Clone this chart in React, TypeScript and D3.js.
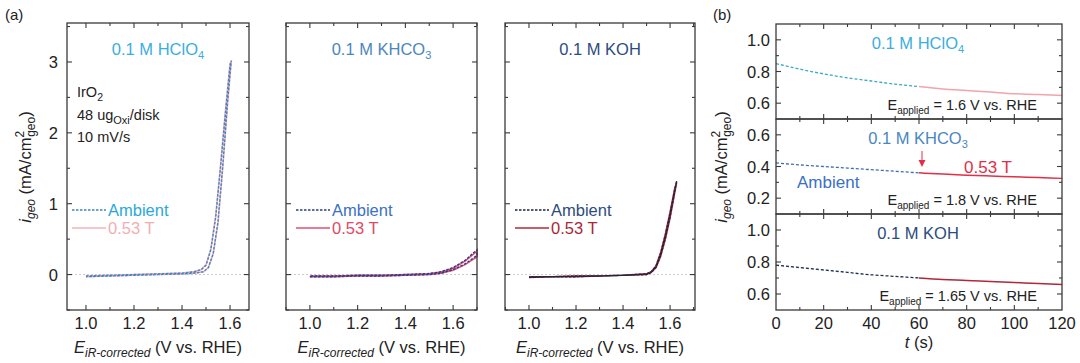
import React from "react";
import * as d3 from "d3";

const FONT = "'Liberation Sans', Arial, sans-serif";
const FRAME = "#3a3a3a";

// (a) LSV loops: forward scan then reverse scan
const hclo4E = [1.0, 1.1, 1.2, 1.3, 1.4, 1.45, 1.48, 1.5, 1.52, 1.54, 1.56, 1.58, 1.6, 1.605, 1.59, 1.57, 1.55, 1.53, 1.51, 1.49, 1.45, 1.4, 1.3, 1.2, 1.1, 1.0];
const hclo4Amb = [-0.02, -0.01, 0, 0.01, 0.02, 0.04, 0.07, 0.13, 0.35, 0.8, 1.5, 2.25, 2.95, 3.02, 2.45, 1.55, 0.75, 0.3, 0.1, 0.04, 0.02, 0.01, 0, -0.01, -0.02, -0.03];
const hclo4Mag = [-0.02, -0.01, 0, 0.01, 0.02, 0.04, 0.07, 0.14, 0.36, 0.82, 1.52, 2.28, 2.98, 3.0, 2.42, 1.52, 0.73, 0.29, 0.1, 0.04, 0.02, 0.01, 0, -0.01, -0.02, -0.03];

const khco3E = [1.0, 1.1, 1.2, 1.3, 1.4, 1.5, 1.55, 1.6, 1.65, 1.7, 1.7, 1.65, 1.6, 1.55, 1.5, 1.4, 1.3, 1.2, 1.1, 1.0];
const khco3Amb = [-0.03, -0.03, -0.02, -0.02, -0.01, 0.0, 0.02, 0.07, 0.15, 0.27, 0.35, 0.2, 0.1, 0.04, 0.015, 0.0, -0.01, -0.01, -0.02, -0.02];
const khco3Mag = [-0.03, -0.03, -0.02, -0.02, -0.01, 0.0, 0.02, 0.06, 0.14, 0.25, 0.33, 0.19, 0.09, 0.035, 0.01, 0.0, -0.01, -0.01, -0.02, -0.02];

const kohE = [1.0, 1.1, 1.2, 1.3, 1.4, 1.5, 1.52, 1.54, 1.56, 1.58, 1.6, 1.62, 1.628, 1.62, 1.6, 1.58, 1.56, 1.54, 1.52, 1.5, 1.4, 1.3, 1.2, 1.1, 1.0];
const kohAmb = [-0.04, -0.03, -0.03, -0.02, -0.01, 0.0, 0.03, 0.1, 0.27, 0.52, 0.82, 1.18, 1.32, 1.2, 0.86, 0.56, 0.3, 0.12, 0.04, 0.01, -0.01, -0.02, -0.02, -0.03, -0.03];
const kohMag = [-0.04, -0.03, -0.03, -0.02, -0.01, 0.0, 0.03, 0.1, 0.26, 0.5, 0.8, 1.16, 1.3, 1.22, 0.88, 0.57, 0.31, 0.12, 0.04, 0.01, -0.01, -0.02, -0.02, -0.03, -0.03];

const aXTicks = [1.0, 1.2, 1.4, 1.6];
const aYTicks = [0, 1, 2, 3];

// (b) chronoamperometry: ambient 0-60 s, 0.53 T 60-120 s
const tAmb = [0, 10, 20, 30, 40, 50, 60];
const tMag = [60, 70, 80, 90, 100, 110, 120];
const caHclo4Amb = [0.85, 0.815, 0.785, 0.76, 0.74, 0.72, 0.705];
const caHclo4Mag = [0.705, 0.69, 0.68, 0.67, 0.66, 0.655, 0.648];
const caKhco3Amb = [0.423, 0.41, 0.4, 0.39, 0.38, 0.37, 0.36];
const caKhco3Mag = [0.36, 0.352, 0.345, 0.34, 0.335, 0.33, 0.325];
const caKohAmb = [0.78, 0.765, 0.75, 0.735, 0.72, 0.71, 0.7];
const caKohMag = [0.7, 0.69, 0.685, 0.678, 0.672, 0.665, 0.66];
const bXTicks = [0, 20, 40, 60, 80, 100, 120];

function Ticks({ x0, x1, y0, y1, xs, ys }: any) {
  // inward ticks on all four sides
  const out: any[] = [];
  xs.forEach((d: any, i: number) => {
    const L = d.major ? 5 : 3;
    out.push(<line key={"xb" + i} x1={d.p} x2={d.p} y1={y1} y2={y1 - L} stroke={FRAME} strokeWidth={1.1} />);
    out.push(<line key={"xt" + i} x1={d.p} x2={d.p} y1={y0} y2={y0 + L} stroke={FRAME} strokeWidth={1.1} />);
  });
  ys.forEach((d: any, i: number) => {
    const L = d.major ? 5 : 3;
    out.push(<line key={"yl" + i} x1={x0} x2={x0 + L} y1={d.p} y2={d.p} stroke={FRAME} strokeWidth={1.1} />);
    out.push(<line key={"yr" + i} x1={x1} x2={x1 - L} y1={d.p} y2={d.p} stroke={FRAME} strokeWidth={1.1} />);
  });
  return <g>{out}</g>;
}

function PanelA({ x0, x1, domain, E, amb, mag, colors, title, legend, showY, children }: any) {
  const y0 = 23, y1 = 310;
  const x = d3.scaleLinear().domain(domain).range([x0, x1]);
  const y = d3.scaleLinear().domain([-0.5, 3.55]).range([y1, y0]);
  const line = d3.line<number>().x((_, i) => x(E[i])).y((d) => y(d));
  const xs = d3.range(Math.ceil(domain[0] * 10), Math.floor(domain[1] * 10 + 1e-6) + 1).map((k) => ({ p: x(k / 10), major: k % 2 === 0 }));
  const ys = d3.range(-1, 8).map((k) => ({ p: y(k / 2), major: k % 2 === 0 }));
  const lx = x0 + legend.dx;
  const cx = (x0 + x1) / 2;
  return (
    <g>
      <line x1={x0} x2={x1} y1={y(0)} y2={y(0)} stroke="#c8c8c8" strokeWidth={1} strokeDasharray="2,2" />
      <path d={line(mag) || ""} fill="none" stroke={colors.mag} strokeWidth={1.6} />
      <path d={line(amb) || ""} fill="none" stroke={colors.amb} strokeWidth={1.4} strokeDasharray="2.5,1.5" />
      <rect x={x0} y={y0} width={x1 - x0} height={y1 - y0} fill="none" stroke={FRAME} strokeWidth={1.3} />
      <Ticks x0={x0} x1={x1} y0={y0} y1={y1} xs={xs} ys={ys} />
      {aXTicks.map((t) => (
        <text key={t} x={x(t)} y={329} textAnchor="middle" fontSize={16.5} fill="#222">{t.toFixed(1)}</text>
      ))}
      {showY && aYTicks.map((t) => (
        <text key={t} x={x0 - 9} y={y(t) + 6} textAnchor="end" fontSize={16.5} fill="#222">{t}</text>
      ))}
      <text x={cx} y={55} textAnchor="middle" fontSize={16.5} fill={colors.title}>
        {title[0]}<tspan fontSize={11} dy={4}>{title[1]}</tspan>
      </text>
      <line x1={lx} x2={lx + 34} y1={210} y2={210} stroke={colors.amb} strokeWidth={1.4} strokeDasharray="2.5,1.5" />
      <text x={lx + 36} y={216} fontSize={16.5} fill={colors.ambText}>Ambient</text>
      <line x1={lx} x2={lx + 34} y1={228} y2={228} stroke={colors.mag} strokeWidth={1.4} />
      <text x={lx + 36} y={234} fontSize={16.5} fill={colors.magText}>0.53 T</text>
      <text x={cx} y={353} textAnchor="middle" fontSize={16.5} fill="#222">
        <tspan fontStyle="italic">E</tspan>
        <tspan fontStyle="italic" fontSize={12} dy={4}>iR-corrected</tspan>
        <tspan dy={-4}> (V vs. RHE)</tspan>
      </text>
      {children}
    </g>
  );
}

function PanelB({ y0, y1, domain, yTicks, amb, mag, colors, title, eLabel, children }: any) {
  const x0 = 776, x1 = 1062;
  const x = d3.scaleLinear().domain([0, 120]).range([x0, x1]);
  const y = d3.scaleLinear().domain(domain).range([y1, y0]);
  const lineA = d3.line<number>().x((_, i) => x(tAmb[i])).y((d) => y(d)).curve(d3.curveMonotoneX);
  const lineM = d3.line<number>().x((_, i) => x(tMag[i])).y((d) => y(d)).curve(d3.curveMonotoneX);
  const xs = d3.range(1, 12).map((k) => ({ p: x(k * 10), major: k % 2 === 0 }));
  const ys = d3.range(Math.round(domain[0] * 10) + 1, Math.round(domain[1] * 10)).map((k) => ({ p: y(k / 10), major: k % 2 === 0 }));
  return (
    <g>
      <path d={lineA(amb) || ""} fill="none" stroke={colors.amb} strokeWidth={1.3} strokeDasharray="3,2" />
      <path d={lineM(mag) || ""} fill="none" stroke={colors.mag} strokeWidth={1.5} />
      <rect x={x0} y={y0} width={x1 - x0} height={y1 - y0} fill="none" stroke={FRAME} strokeWidth={1.3} />
      <Ticks x0={x0} x1={x1} y0={y0} y1={y1} xs={xs} ys={ys} />
      {yTicks.map((t: number) => (
        <text key={t} x={770} y={y(t) + 6} textAnchor="end" fontSize={16.5} fill="#222">{t.toFixed(1)}</text>
      ))}
      <text x={918} y={y0 + 25} textAnchor="middle" fontSize={16.5} fill={colors.title}>
        {title[0]}<tspan fontSize={11} dy={4}>{title[1]}</tspan>
      </text>
      <text x={1037} y={y1 - 9} textAnchor="end" fontSize={14.5} fill="#222">
        E<tspan fontSize={10} dy={4}>applied</tspan><tspan dy={-4}>{" = " + eLabel + " V vs. RHE"}</tspan>
      </text>
      {children}
    </g>
  );
}

function YLabel({ x }: any) {
  return (
    <text transform={`translate(${x},167) rotate(-90)`} textAnchor="middle" fontSize={16.5} fill="#222">
      <tspan fontStyle="italic">i</tspan>
      <tspan fontStyle="italic" fontSize={12} dy={4}>geo</tspan>
      <tspan dy={-4}> (mA/cm</tspan>
      <tspan fontSize={12} dy={-7}>2</tspan>
      <tspan fontSize={12} dx={-6} dy={11}>geo</tspan>
      <tspan dy={-4}>)</tspan>
    </text>
  );
}

export default function App() {
  return (
    <svg width={1080} height={363} style={{ position: "absolute", left: 0, top: 0, fontFamily: FONT }} fontFamily={FONT}>
      <rect width={1080} height={363} fill="#fff" />
      <text x={5} y={20} fontSize={15} fill="#222">(a)</text>
      <text x={713} y={20} fontSize={15} fill="#222">(b)</text>

      <YLabel x={31} />

      <PanelA x0={67} x1={249} domain={[0.921, 1.679]} E={hclo4E} amb={hclo4Amb} mag={hclo4Mag}
        colors={{ amb: "#3d86c8", mag: "#f4b2b8", title: "#3aaee0", ambText: "#2aa8de", magText: "#f2aeb4" }}
        title={["0.1 M HClO", "4"]} legend={{ dx: 5 }} showY>
        <text x={77} y={97} fontSize={14.5} fill="#222">IrO<tspan fontSize={10.5} dy={4}>2</tspan></text>
        <text x={77} y={120} fontSize={14.5} fill="#222">48 ug<tspan fontSize={11} dy={4}>Oxi</tspan><tspan dy={-4}>/disk</tspan></text>
        <text x={77} y={142} fontSize={14.5} fill="#222">10 mV/s</text>
      </PanelA>

      <PanelA x0={286} x1={477} domain={[0.9, 1.7]} E={khco3E} amb={khco3Amb} mag={khco3Mag}
        colors={{ amb: "#2c3f8c", mag: "#e05070", title: "#4a86c0", ambText: "#3a70c8", magText: "#e04a64" }}
        title={["0.1 M KHCO", "3"]} legend={{ dx: 10 }} />

      <PanelA x0={505} x1={695} domain={[0.898, 1.706]} E={kohE} amb={kohAmb} mag={kohMag}
        colors={{ amb: "#1c2640", mag: "#b02a3c", title: "#2c4c80", ambText: "#2c4c80", magText: "#a82838" }}
        title={["0.1 M KOH", ""]} legend={{ dx: 10 }} />

      <YLabel x={727} />

      <PanelB y0={24} y1={119} domain={[0.5, 1.1]} yTicks={[1.0, 0.8, 0.6]} amb={caHclo4Amb} mag={caHclo4Mag}
        colors={{ amb: "#3aa8c8", mag: "#f2a4ac", title: "#3aaee0" }} title={["0.1 M HClO", "4"]} eLabel="1.6" />
      <PanelB y0={119} y1={214} domain={[0.1, 0.7]} yTicks={[0.6, 0.4, 0.2]} amb={caKhco3Amb} mag={caKhco3Mag}
        colors={{ amb: "#3a70b0", mag: "#e03048", title: "#4a86c0" }} title={["0.1 M KHCO", "3"]} eLabel="1.8">
        <line x1={922} x2={922} y1={151} y2={164} stroke="#e03048" strokeWidth={1} />
        <path d="M918.5,160 L922,167 L925.5,160 Z" fill="#e03048" />
        <text x={964} y={173} fontSize={17} fill="#e03048">0.53 T</text>
        <text x={797} y={188} fontSize={17} fill="#3a70c8">Ambient</text>
      </PanelB>
      <PanelB y0={214} y1={310} domain={[0.5, 1.1]} yTicks={[1.0, 0.8, 0.6]} amb={caKohAmb} mag={caKohMag}
        colors={{ amb: "#1e3050", mag: "#b0283a", title: "#2c4c80" }} title={["0.1 M KOH", ""]} eLabel="1.65" />

      {bXTicks.map((t) => (
        <text key={t} x={776 + (t / 120) * 286} y={329} textAnchor="middle" fontSize={16.5} fill="#222">{t}</text>
      ))}
      <text x={919} y={348} textAnchor="middle" fontSize={16.5} fill="#222">
        <tspan fontStyle="italic">t</tspan> (s)
      </text>
    </svg>
  );
}
